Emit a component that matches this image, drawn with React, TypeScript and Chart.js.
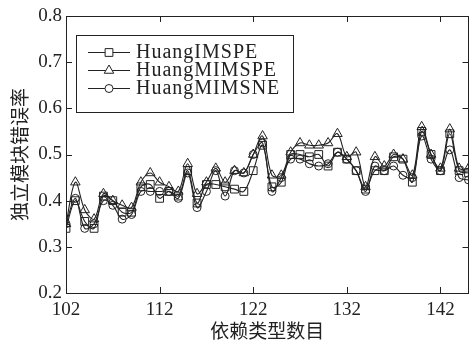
import React, { useEffect, useRef } from "react";
import { Chart, registerables } from "chart.js";

Chart.register(...registerables);

const xValues = [102,103,104,105,106,107,108,109,110,111,112,113,114,115,116,117,118,119,120,121,122,123,124,125,126,127,128,129,130,131,132,133,134,135,136,137,138,139,140,141,142,143,144,145];
const imspe = [0.34,0.40,0.355,0.34,0.41,0.40,0.375,0.375,0.43,0.435,0.405,0.42,0.41,0.465,0.395,0.435,0.435,0.43,0.425,0.42,0.465,0.52,0.43,0.44,0.50,0.50,0.495,0.50,0.475,0.505,0.49,0.465,0.425,0.465,0.465,0.495,0.49,0.44,0.55,0.50,0.465,0.545,0.465,0.46];
const mimspe = [0.35,0.44,0.38,0.36,0.415,0.40,0.39,0.385,0.44,0.46,0.44,0.43,0.42,0.48,0.415,0.44,0.47,0.44,0.465,0.46,0.50,0.54,0.455,0.455,0.505,0.525,0.52,0.52,0.525,0.545,0.495,0.505,0.43,0.495,0.475,0.50,0.49,0.455,0.56,0.50,0.47,0.555,0.47,0.47];
const mimsne = [0.35,0.405,0.34,0.35,0.40,0.39,0.36,0.37,0.42,0.42,0.42,0.42,0.405,0.46,0.385,0.42,0.465,0.41,0.465,0.46,0.50,0.525,0.42,0.45,0.49,0.49,0.48,0.475,0.48,0.505,0.49,0.465,0.42,0.475,0.465,0.475,0.455,0.45,0.54,0.49,0.465,0.51,0.45,0.445];
const seriesLabels = ["HuangIMSPE", "HuangMIMSPE", "HuangMIMSNE"];
const xTicks = [102, 112, 122, 132, 142];
const yTicks = [0.2, 0.3, 0.4, 0.5, 0.6, 0.7, 0.8];
const xTitle = "依赖类型数目";
const yTitle = "独立模块错误率";

const INK = "#222";
const NUM_FONT = "'Liberation Serif', serif";
const CJK_FONT = "'Noto Sans CJK SC', sans-serif";

const frameLegendPlugin = {
  id: "frameLegend",
  afterDraw(chart: any) {
    const ctx = chart.ctx;
    const { left, right, top, bottom } = chart.chartArea;
    ctx.save();
    ctx.strokeStyle = INK;
    ctx.lineWidth = 1;
    ctx.strokeRect(Math.round(left) + 0.5, Math.round(top) + 0.5, Math.round(right - left) - 1, Math.round(bottom - top));
    const xs = chart.scales.x;
    const ys = chart.scales.y;
    ctx.beginPath();
    xs.ticks.forEach((t: any) => {
      const px = Math.round(xs.getPixelForValue(t.value)) + 0.5;
      ctx.moveTo(px, bottom);
      ctx.lineTo(px, bottom - 6);
      ctx.moveTo(px, top);
      ctx.lineTo(px, top + 6);
    });
    ys.ticks.forEach((t: any) => {
      const py = Math.round(ys.getPixelForValue(t.value)) + 0.5;
      ctx.moveTo(left, py);
      ctx.lineTo(left + 6, py);
      ctx.moveTo(right, py);
      ctx.lineTo(right - 6, py);
    });
    ctx.stroke();

    // legend
    const bx = 76, by = 35, bw = 217, bh = 77;
    ctx.fillStyle = "#fff";
    ctx.fillRect(bx, by, bw, bh);
    ctx.strokeRect(bx + 0.5, by + 0.5, bw, bh);
    const rows = [52, 70, 88];
    chart.data.datasets.forEach((ds: any, i: number) => {
      const y = rows[i] + 0.5;
      ctx.strokeStyle = INK;
      ctx.lineWidth = 1;
      ctx.beginPath();
      ctx.moveTo(88, y);
      ctx.lineTo(130, y);
      ctx.stroke();
      const r = ds.pointRadius;
      ctx.beginPath();
      if (ds.pointStyle === "rect") {
        const s = Math.SQRT1_2 * r;
        ctx.rect(109 - s, y - s, 2 * s, 2 * s);
      } else if (ds.pointStyle === "triangle") {
        ctx.moveTo(109, y - r);
        ctx.lineTo(109 + r * 0.866, y + r * 0.5);
        ctx.lineTo(109 - r * 0.866, y + r * 0.5);
        ctx.closePath();
      } else {
        ctx.arc(109, y, r, 0, Math.PI * 2);
      }
      ctx.fillStyle = "#fff";
      ctx.fill();
      ctx.stroke();
      ctx.fillStyle = INK;
      ctx.font = `20px ${NUM_FONT}`;
      try { (ctx as any).letterSpacing = "1px"; } catch (e) {}
      ctx.textBaseline = "middle";
      ctx.textAlign = "left";
      ctx.fillText(ds.label, 136, rows[i] + 1);
      try { (ctx as any).letterSpacing = "0px"; } catch (e) {}
    });
    ctx.restore();
  },
};

export default function App() {
  const ref = useRef<HTMLCanvasElement | null>(null);
  useEffect(() => {
    if (!ref.current) return;
    const mk = (label: string, data: number[], style: string, r: number) => ({
      label,
      data: xValues.map((x, i) => ({ x, y: data[i] })),
      borderColor: INK,
      backgroundColor: "transparent",
      borderWidth: 1.1,
      pointStyle: style,
      pointRadius: r,
      pointBorderColor: INK,
      pointBackgroundColor: "transparent",
      pointBorderWidth: 1,
      tension: 0.35,
      fill: false,
    });
    const zeroPadH = (s: any) => { s.paddingLeft = 0; s.paddingRight = 0; };
    const zeroPadV = (s: any) => { s.paddingTop = 0; s.paddingBottom = 0; };
    const chart = new Chart(ref.current, {
      type: "line",
      data: {
        datasets: [
          mk(seriesLabels[0], imspe, "rect", 5.5),
          mk(seriesLabels[1], mimspe, "triangle", 5.5),
          mk(seriesLabels[2], mimsne, "circle", 4),
        ],
      },
      options: {
        animation: false,
        responsive: false,
        layout: { padding: { left: 0, right: 2, top: 16, bottom: 0 } },
        plugins: { legend: { display: false }, tooltip: { enabled: false } },
        scales: {
          x: {
            type: "linear",
            min: 102,
            max: 145,
            afterBuildTicks: (s: any) => { s.ticks = xTicks.map((v) => ({ value: v })); },
            afterFit: (s: any) => { s.height = 49; zeroPadH(s); zeroPadV(s); },
            afterUpdate: (s: any) => { zeroPadH(s); zeroPadV(s); },
            grid: { display: false, drawTicks: false },
            border: { display: false },
            ticks: { color: INK, font: { family: NUM_FONT, size: 19 }, padding: 6, maxRotation: 0, autoSkip: false, callback: (v: any) => String(v) },
            title: { display: true, text: xTitle, color: INK, font: { family: CJK_FONT, size: 19 }, padding: { top: 0, bottom: 0 } },
          },
          y: {
            min: 0.2,
            max: 0.8,
            afterBuildTicks: (s: any) => { s.ticks = yTicks.map((v) => ({ value: v })); },
            afterFit: (s: any) => { s.width = 66; zeroPadH(s); zeroPadV(s); },
            afterUpdate: (s: any) => { zeroPadH(s); zeroPadV(s); },
            grid: { display: false, drawTicks: false },
            border: { display: false },
            ticks: { color: INK, font: { family: NUM_FONT, size: 19 }, padding: 4, callback: (v: any) => Number(v).toFixed(1) },
            title: { display: true, text: yTitle, color: INK, font: { family: CJK_FONT, size: 19 }, padding: { top: 8, bottom: 0 } },
          },
        },
      },
      plugins: [frameLegendPlugin],
    } as any);
    return () => chart.destroy();
  }, []);
  return (
    <div style={{ position: "absolute", left: 0, top: 0 }}>
      <canvas ref={ref} width={475} height={342} style={{ display: "block" }} />
    </div>
  );
}
